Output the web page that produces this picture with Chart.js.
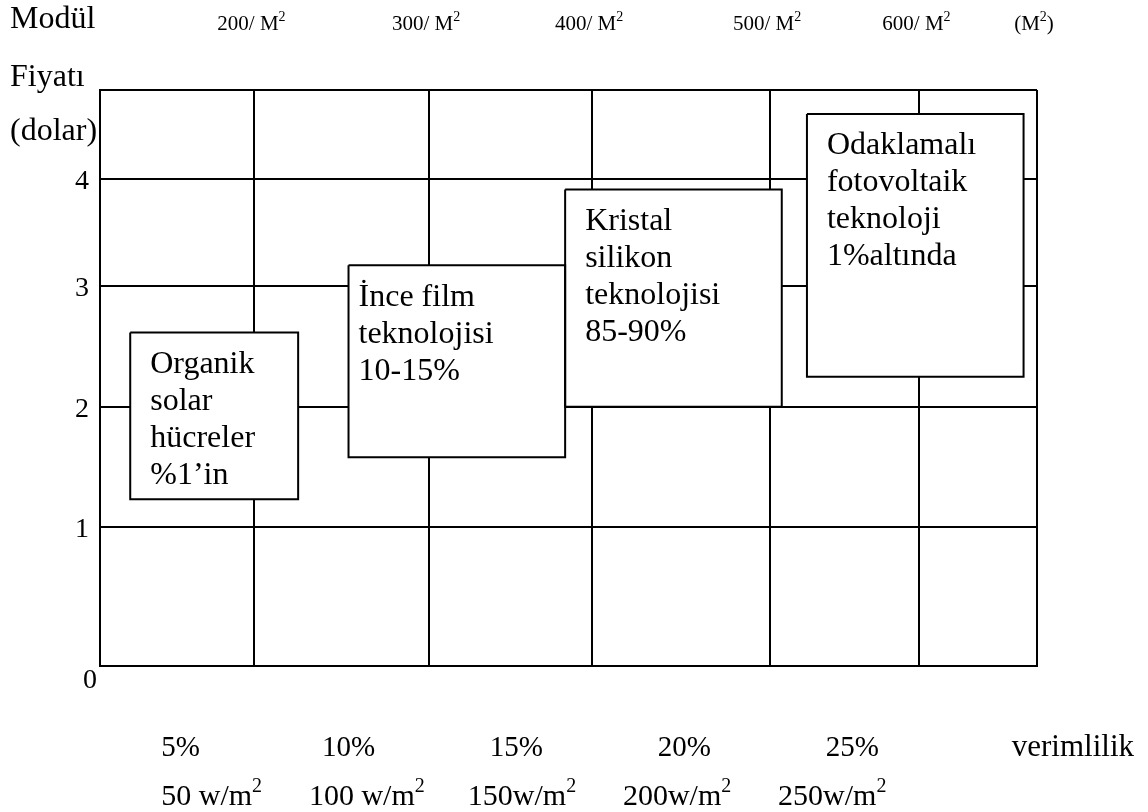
<!DOCTYPE html>
<html>
<head>
<meta charset="utf-8">
<script src="https://cdn.jsdelivr.net/npm/chart.js@4.4.1/dist/chart.umd.min.js"></script>
<style>
  html, body { margin: 0; padding: 0; background: #fff; }
</style>
</head>
<body>
<canvas id="chart" width="1148" height="812"></canvas>
<script>
// Efficiency axis (%): column borders of the grid, labels under the columns
const xMin = 2.6, xMax = 30.5;
const xGridLines = [2.6, 7.2, 12.4, 17.25, 22.55, 27.0, 30.5];
const moduleLabels = ['', '200/ M²', '300/ M²', '400/ M²', '500/ M²', '600/ M²', '(M²)'];
const efficiencyTicks = [5, 10, 15, 20, 25];
const efficiencyLabels = ['5%', '10%', '15%', '20%', '25%'];

// Irradiance row (w/m2), its own hidden scale
const irrMin = 14, irrMax = 316;
const irradianceTicks = [50, 100, 150, 200, 250];
const irradianceLabels = ['50 w/m²', '100 w/m²', '150w/m²', '200w/m²', '250w/m²'];

// Price axis (dollar)
const yMin = 0, yMax = 4.8;
const yGridLines = [0, 1.16, 2.16, 3.17, 4.06, 4.8];
const priceLabels = ['0', '1', '2', '3', '4'];

// Technology boxes: efficiency range and price range
const techNames = [
  ['Organik', 'solar', 'hücreler', '%1’in'],
  ['İnce film', 'teknolojisi', '10-15%'],
  ['Kristal', 'silikon', 'teknolojisi', '85-90%'],
  ['Odaklamalı', 'fotovoltaik', 'teknoloji', '1%altında']
];
const techEffFrom = [3.5, 10.0, 16.45, 23.65];
const techEffTo = [8.5, 16.45, 22.9, 30.1];
const techPriceLow = [1.39, 1.74, 2.16, 2.41];
const techPriceHigh = [2.78, 3.34, 3.97, 4.6];

const serif = '"Liberation Serif", "Times New Roman", serif';
const boxPad = [20, 10, 20, 20];

// Function to put the grid ticks where the picture has its lines
function gridTicks(values) {
  return scale => { scale.ticks = values.map(v => ({ value: v })); };
}

// Build the datasets: for each box an outline and a white fill under it
function buildDatasets() {
  const outlines = [];
  const fills = [];
  techNames.forEach((lines, i) => {
    outlines.push({
      label: lines.join(' '),
      data: [
        { x: techEffFrom[i], y: techPriceHigh[i] },
        { x: techEffTo[i], y: techPriceHigh[i] },
        { x: techEffTo[i], y: techPriceLow[i] },
        { x: techEffFrom[i], y: techPriceLow[i] },
        { x: techEffFrom[i], y: techPriceHigh[i] }
      ],
      borderColor: '#000',
      borderWidth: 2,
      fill: false,
      pointRadius: 0,
      tension: 0
    });
    // white fill from the top edge down to the box bottom
    fills.push({
      label: lines.join(' ') + ' fill',
      data: [
        { x: techEffFrom[i], y: techPriceHigh[i] },
        { x: techEffTo[i], y: techPriceHigh[i] }
      ],
      borderWidth: 0,
      borderColor: 'rgba(0,0,0,0)',
      backgroundColor: '#fff',
      fill: { value: techPriceLow[i] },
      pointRadius: 0
    });
  });
  // higher indexes are drawn first, so fills go at the end
  return outlines.concat(fills);
}

// Function to write a text where "²" is a small raised 2
function drawSup(ctx, text, cx, cy, size) {
  const parts = text.split('²');
  const supSize = Math.round(size * 0.65);
  let total = 0;
  const widths = parts.map(p => {
    ctx.font = size + 'px ' + serif;
    return ctx.measureText(p).width;
  });
  ctx.font = supSize + 'px ' + serif;
  const supW = ctx.measureText('2').width;
  total = widths.reduce((a, b) => a + b, 0) + supW * (parts.length - 1);
  let px = cx - total / 2;
  ctx.textAlign = 'left';
  parts.forEach((p, i) => {
    ctx.font = size + 'px ' + serif;
    ctx.fillText(p, px, cy);
    px += widths[i];
    if (i < parts.length - 1) {
      ctx.font = supSize + 'px ' + serif;
      ctx.fillText('2', px, cy - size * 0.33);
      px += supW;
    }
  });
}

// Plugin that writes all the texts
const textPlugin = {
  id: 'diagramText',
  afterDatasetsDraw(chart) {
    const { ctx, chartArea } = chart;
    const x = chart.scales.x, y = chart.scales.y, xIrr = chart.scales.xIrr;
    ctx.save();
    ctx.fillStyle = '#000';
    ctx.textBaseline = 'middle';

    // texts inside the boxes
    ctx.font = '32px ' + serif;
    ctx.textAlign = 'left';
    techNames.forEach((lines, i) => {
      const left = x.getPixelForValue(techEffFrom[i]);
      const top = y.getPixelForValue(techPriceHigh[i]);
      lines.forEach((t, j) => ctx.fillText(t, left + boxPad[i], top + 32 + j * 37));
    });

    // axis titles
    ctx.font = '32px ' + serif;
    ctx.fillText('Modül', 10, 20);
    ctx.fillText('Fiyatı', 10, 78);
    ctx.fillText('(dolar)', 10, 132);
    ctx.font = '31px ' + serif;
    ctx.textAlign = 'right';
    ctx.fillText('verimlilik', 1134, chartArea.bottom + 82);

    // price labels
    ctx.font = '28px ' + serif;
    ctx.textAlign = 'center';
    priceLabels.forEach((t, i) => {
      if (i === 0) {
        ctx.fillText(t, 90, chartArea.bottom + 15);
      } else {
        ctx.fillText(t, 82, y.getPixelForValue(yGridLines[i]) + 3);
      }
    });

    // module price labels on top of the grid lines
    moduleLabels.forEach((t, i) => {
      if (t) drawSup(ctx, t, x.getPixelForValue(xGridLines[i]) - 3, 24, 21);
    });

    // efficiency and irradiance rows
    ctx.font = '29px ' + serif;
    ctx.textAlign = 'center';
    efficiencyTicks.forEach((v, i) => {
      ctx.fillText(efficiencyLabels[i], x.getPixelForValue(v), chartArea.bottom + 82);
    });
    irradianceTicks.forEach((v, i) => {
      drawSup(ctx, irradianceLabels[i], xIrr.getPixelForValue(v), chartArea.bottom + 131, 30);
    });
    ctx.restore();
  }
};

const gridStyle = { color: '#000', lineWidth: 2, drawTicks: false };
const borderStyle = { display: true, color: '#000', width: 2 };

new Chart(document.getElementById('chart'), {
  type: 'line',
  data: { datasets: buildDatasets() },
  options: {
    responsive: false,
    devicePixelRatio: 1,
    animation: false,
    layout: { padding: { left: 100, top: 90, right: 111, bottom: 146 } },
    plugins: { legend: { display: false }, tooltip: { enabled: false } },
    scales: {
      x: {
        type: 'linear', min: xMin, max: xMax,
        afterBuildTicks: gridTicks(xGridLines),
        ticks: { display: false },
        grid: gridStyle, border: borderStyle
      },
      xIrr: {
        type: 'linear', axis: 'x', position: 'bottom', display: false,
        min: irrMin, max: irrMax
      },
      y: {
        type: 'linear', min: yMin, max: yMax,
        afterBuildTicks: gridTicks(yGridLines),
        ticks: { display: false },
        grid: gridStyle, border: borderStyle
      }
    }
  },
  plugins: [textPlugin]
});
</script>
</body>
</html>
